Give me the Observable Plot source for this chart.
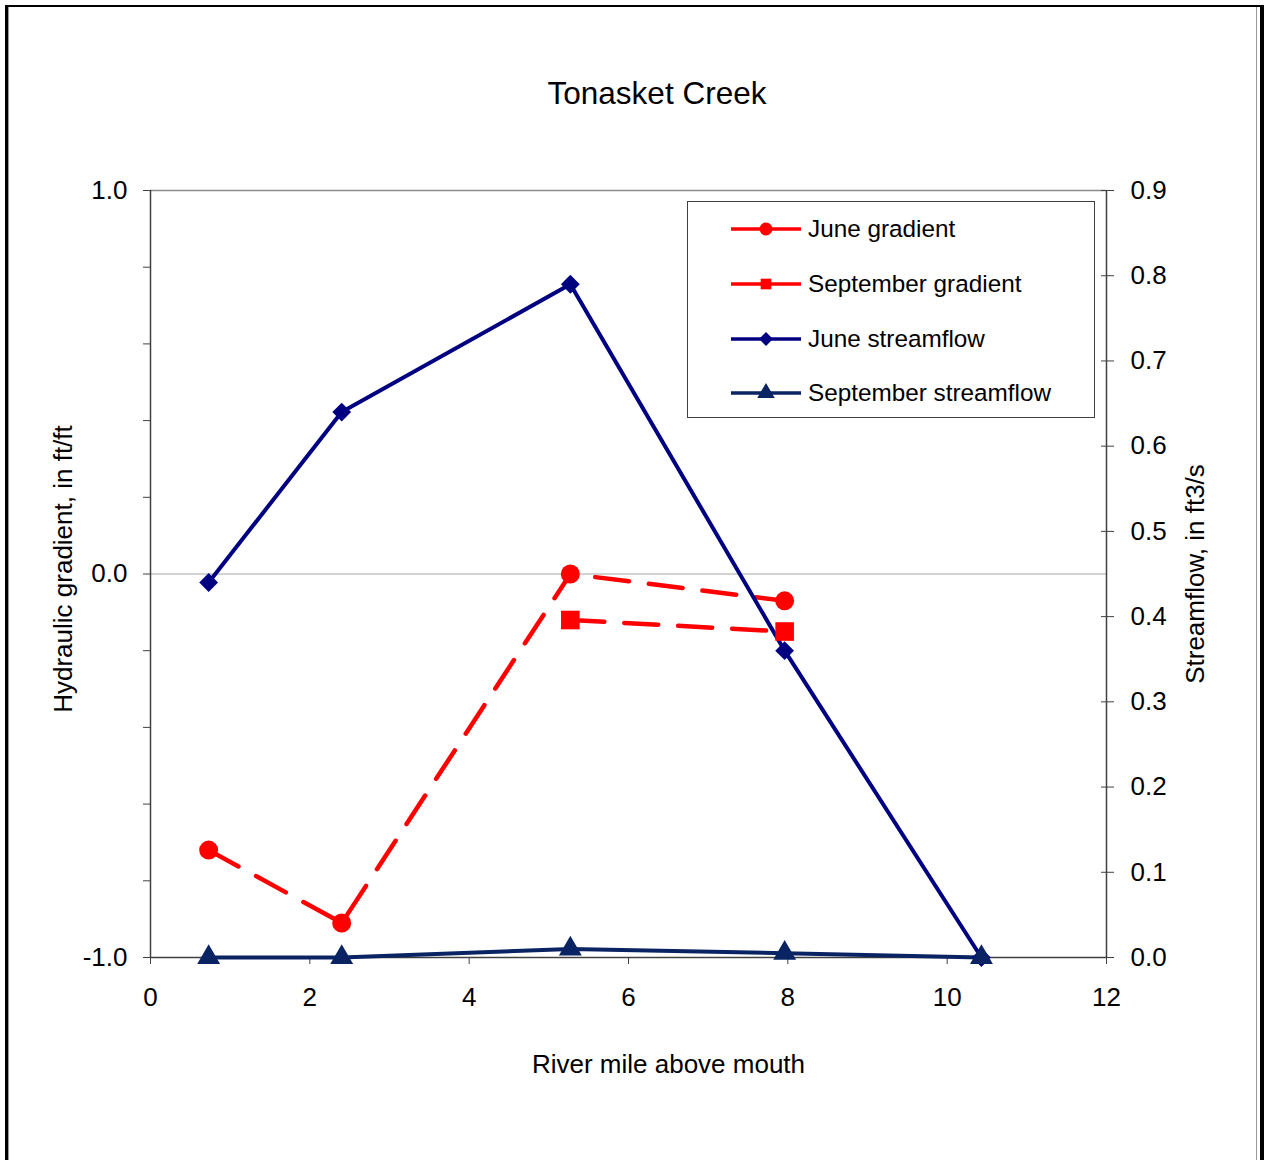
<!DOCTYPE html>
<html>
<head>
<meta charset="utf-8">
<script src="https://cdn.jsdelivr.net/npm/d3@7"></script>
<script src="https://cdn.jsdelivr.net/npm/@observablehq/plot@0.6"></script>
<style>
  html, body { margin: 0; padding: 0; background: #fff; }
  body { width: 1264px; height: 1160px; overflow: hidden; font-family: "Liberation Sans", Arial, sans-serif; }
  #wrap { position: relative; width: 1264px; height: 1160px; }
  .abs { position: absolute; }
  #title { left: 407px; width: 500px; top: 74px; text-align: center; font-size: 31.5px; line-height: 38px; color: #000; }
  #legend { left: 687px; top: 201px; width: 406px; height: 215px; border: 1.5px solid #404040; background: #fff; }
  .row { position: absolute; left: 0; height: 30px; display: flex; align-items: center; }
  .row svg { margin-left: 42px; }
  .row span { margin-left: 6px; font-size: 24.3px; color: #000; white-space: nowrap; }
</style>
</head>
<body>
<div id="wrap">
  <div class="abs" style="left:5px;top:5px;width:1252px;height:1200px;border-left:3px solid #000;border-top:2px solid #000;border-right:4px solid #000;"></div>
  <div class="abs" style="left:8px;top:7px;width:1247px;height:1200px;border-left:1.5px solid #999;border-right:1.5px solid #999;"></div>
  <div id="chart" class="abs" style="left:0;top:0;"></div>
  <div id="title" class="abs">Tonasket Creek</div>
  <div id="legend" class="abs"></div>
</div>
<script>
// ---- data ----
const riverMile = [0.73, 2.40, 5.27, 7.96, 10.43];
const juneGradient = [-0.72, -0.91, 0.0, -0.07, null];
const septGradient = [null, null, -0.12, -0.15, null];
const juneFlow = [0.44, 0.64, 0.79, 0.36, 0.0];
const septFlow = [0.0, 0.0, 0.01, 0.005, 0.0];
const xTicks = [0, 2, 4, 6, 8, 10, 12];
const gradTicks = [-1, -0.8, -0.6, -0.4, -0.2, 0, 0.2, 0.4, 0.6, 0.8, 1];
const gradLabels = [-1, 0, 1];
const flowTicks = [0, 0.1, 0.2, 0.3, 0.4, 0.5, 0.6, 0.7, 0.8, 0.9];
const flowMax = 0.9;

const series = [
  {name: "June gradient", values: juneGradient, axis: "left", color: "#ff0000", dash: "34,20", symbol: "circle", r: 9.5, rotate: 0, lr: 6.5, lsym: "circle"},
  {name: "September gradient", values: septGradient, axis: "left", color: "#ff0000", dash: "34,20", symbol: "square", r: 10.5, rotate: 0, lr: 6, lsym: "square"},
  {name: "June streamflow", values: juneFlow, axis: "right", color: "#000080", dash: null, symbol: "square", r: 7.5, rotate: 45, lr: 5.5, lsym: "diamond"},
  {name: "September streamflow", values: septFlow, axis: "right", color: "#0a2463", dash: null, symbol: "triangle", r: 8.5, rotate: 0, lr: 6.5, lsym: "triangle"}
];

// map streamflow onto the left (gradient) scale domain
const flowToG = f => -1 + f * 2 / flowMax;
const gToFlow = g => (g + 1) * flowMax / 2;

const rows = [];
series.forEach(s => {
  riverMile.forEach((x, i) => {
    const v = s.values[i];
    if (v == null) return;
    rows.push({series: s.name, x, g: s.axis === "left" ? v : flowToG(v)});
  });
});

const font = '"Liberation Sans", Arial, sans-serif';
const fs = 26;
const marks = [
  Plot.ruleY([0], {stroke: "#a6a6a6", strokeWidth: 1.2}),
  Plot.ruleY([1], {stroke: "#8c8c8c", strokeWidth: 1.5}),
  Plot.axisX({ticks: xTicks, tickSize: 7, tickPadding: 23, fontSize: fs, label: null, stroke: "#404040", tickFormat: d => String(d), fill: "#000"}),
  Plot.axisY({anchor: "left", ticks: gradTicks, tickSize: 7, tickPadding: 16, fontSize: fs, label: null, stroke: "#404040",
    tickFormat: d => gradLabels.some(l => Math.abs(l - d) < 1e-9) ? (Math.abs(d) < 1e-9 ? "0.0" : d.toFixed(1)) : ""}),
  Plot.axisY({anchor: "right", ticks: flowTicks.map(flowToG), tickSize: 7, tickPadding: 17, fontSize: fs, label: null, stroke: "#404040",
    tickFormat: d => gToFlow(d).toFixed(1)}),
  Plot.axisY({anchor: "right", ticks: flowTicks.map(flowToG), tickSize: -6, text: null, label: null, stroke: "#404040"}),
  Plot.ruleX([0], {stroke: "#404040", strokeWidth: 1.5}),
  Plot.ruleX([12], {stroke: "#404040", strokeWidth: 1.5}),
  Plot.ruleY([-1], {stroke: "#404040", strokeWidth: 1.5}),
];
series.forEach(s => {
  const d = rows.filter(r => r.series === s.name);
  marks.push(Plot.line(d, {x: "x", y: "g", stroke: s.color, strokeWidth: s.dash ? 4.5 : 4,
    strokeDasharray: s.dash, strokeLinecap: s.dash ? "round" : "butt", strokeLinejoin: "round"}));
});
series.forEach(s => {
  const d = rows.filter(r => r.series === s.name);
  marks.push(Plot.dot(d, {x: "x", y: "g", symbol: () => s.symbol, r: s.r, fill: s.color, stroke: "none", rotate: s.rotate}));
});
marks.push(
  Plot.text(["Hydraulic gradient, in ft/ft"], {frameAnchor: "left", textAnchor: "middle", text: d => d, rotate: -90, dx: -87, dy: -5, fontSize: fs, fill: "#000"}),
  Plot.text(["Streamflow, in ft3/s"], {frameAnchor: "right", textAnchor: "middle", text: d => d, rotate: -90, dx: 89, dy: 0, fontSize: fs, fill: "#000"}),
  Plot.text(["River mile above mouth"], {frameAnchor: "bottom", textAnchor: "middle", text: d => d, dx: 40, dy: 115, fontSize: fs, fill: "#000"})
);

const chart = Plot.plot({
  width: 1264,
  height: 1160,
  marginLeft: 150,
  marginRight: 158,
  marginTop: 190,
  marginBottom: 203,
  style: {background: "transparent", fontFamily: font, fontSize: fs + "px", color: "#000", overflow: "visible"},
  x: {domain: [0, 12]},
  y: {domain: [-1, 1]},
  symbol: {type: "identity"},
  marks
});
document.getElementById("chart").appendChild(chart);

// ---- legend ----
const legend = document.getElementById("legend");
const rowTops = [12, 67, 122, 176];
const symPath = (sym, r) => {
  const map = {circle: d3.symbolCircle, square: d3.symbolSquare, diamond: d3.symbolSquare, triangle: d3.symbolTriangle};
  return d3.symbol(map[sym], Math.PI * r * r)();
};
series.forEach((s, i) => {
  const row = document.createElement("div");
  row.className = "row";
  row.style.top = rowTops[i] + "px";
  const svg = d3.create("svg").attr("width", 72).attr("height", 30);
  svg.append("line").attr("x1", 1).attr("x2", 71).attr("y1", 15).attr("y2", 15)
    .attr("stroke", s.color).attr("stroke-width", 3.5);
  svg.append("path").attr("d", symPath(s.lsym, s.lr))
    .attr("transform", `translate(36,15) rotate(${s.lsym === "diamond" ? 45 : 0})`)
    .attr("fill", s.color);
  row.appendChild(svg.node());
  const span = document.createElement("span");
  span.textContent = s.name;
  row.appendChild(span);
  legend.appendChild(row);
});
</script>
</body>
</html>
